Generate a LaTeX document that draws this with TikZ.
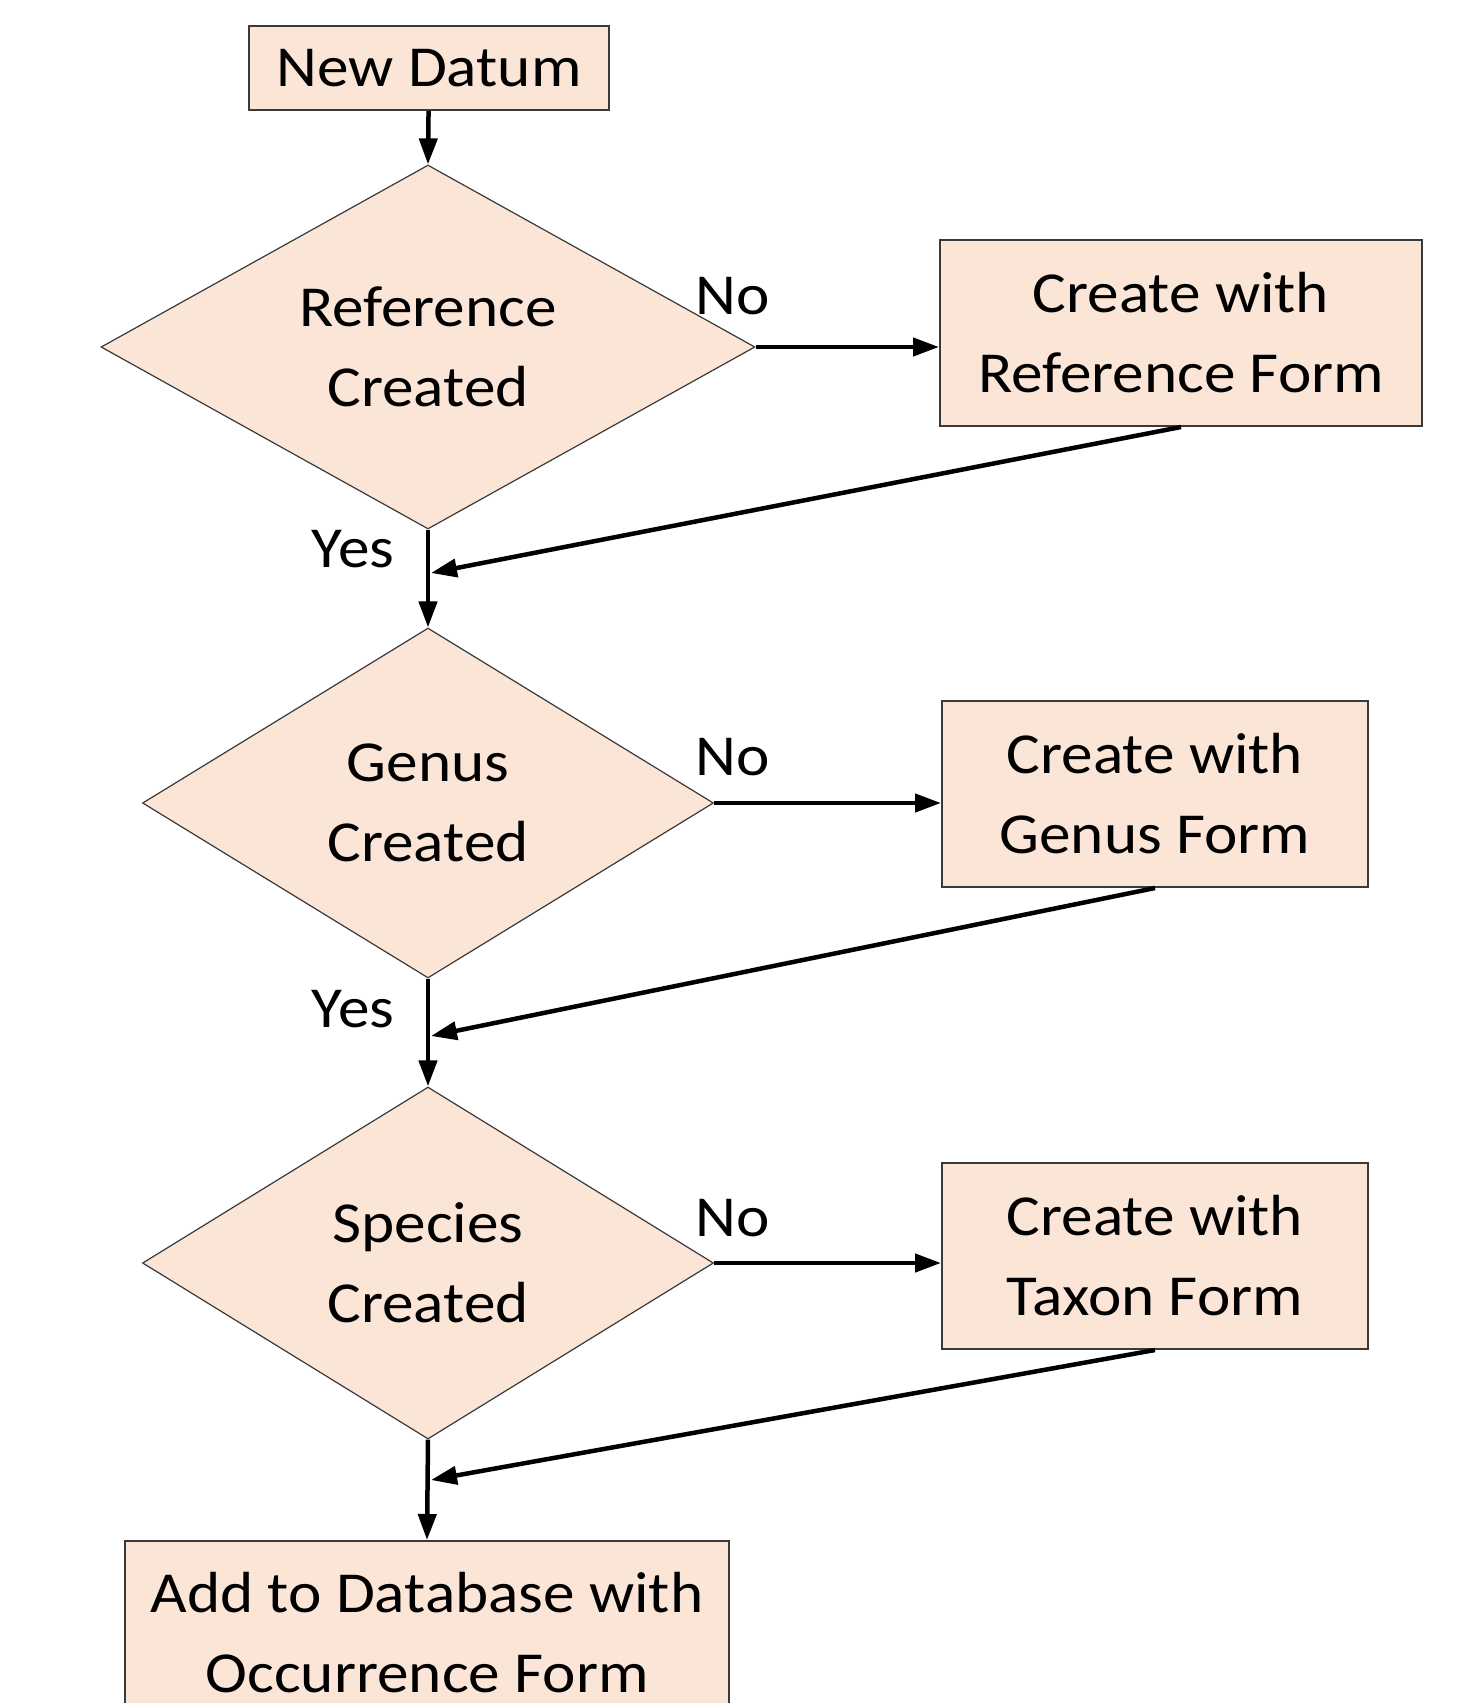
\documentclass[tikz,border=0pt]{standalone}
\usepackage{fontspec}
\setmainfont[FakeStretch=1.09]{Carlito}
\usetikzlibrary{shapes.geometric,arrows.meta,calc}
\definecolor{peach}{HTML}{FBE5D6}
\definecolor{edge}{HTML}{3A3A3A}
\begin{document}
\begin{tikzpicture}[x=1pt,y=-1pt,
  every node/.style={font=\fontsize{58}{80}\selectfont, text=black},
  boxnode/.style={draw=edge, line width=2pt, fill=peach, align=center, inner sep=0pt},
  decision/.style={diamond, aspect=2, draw=edge, line width=1.2pt, fill=peach, align=center, inner sep=0pt},
  flow/.style={line width=4.5pt, -{Triangle[length=26pt,width=18pt]}},
  lbl/.style={inner sep=0pt}]
\clip (0,0) rectangle (1458,1703);
\fill[white] (0,0) rectangle (1458,1703);

\node[boxnode, minimum width=360pt, minimum height=84pt] (nd) at (429,68) {New Datum};

\node[decision, minimum width=654pt, minimum height=364pt] (d1) at (428,347) {Reference\\Created};
\node[boxnode, minimum width=482pt, minimum height=186pt] (b1) at (1181,333) {Create with\\Reference Form};

\node[decision, minimum width=571pt, minimum height=350pt] (d2) at (428,803) {Genus\\Created};
\node[boxnode, minimum width=426pt, minimum height=186pt] (b2) at (1155,794) {Create with\\Genus Form};

\node[decision, minimum width=571pt, minimum height=352pt] (d3) at (428,1263) {Species\\Created};
\node[boxnode, minimum width=426pt, minimum height=186pt] (b3) at (1155,1256) {Create with\\Taxon Form};

\node[boxnode, minimum width=604pt, minimum height=184pt, anchor=north] (fin) at (427,1540) {Add to Database with\\Occurrence Form};

\coordinate (m1) at (431,573);
\coordinate (m2) at (431,1036);
\coordinate (m3) at (431,1480);

\draw[flow] (nd) -- (d1.north);
\draw[flow] (d1.east) -- (d1.east -| b1.west);
\draw[flow] (b1.south) -- (m1);
\draw[flow] (d1.south) -- (d2.north);
\draw[flow] (d2.east) -- (d2.east -| b2.west);
\draw[flow] (b2.south) -- (m2);
\draw[flow] (d2.south) -- (d3.north);
\draw[flow] (d3.east) -- (d3.east -| b3.west);
\draw[flow] (b3.south) -- (m3);
\draw[flow] (d3.south) -- (fin.north);

\node[lbl] (no1) at (733,296) {No};
\node[lbl] (no2) at (733,757) {No};
\node[lbl] (no3) at (733,1218) {No};
\node[lbl] (yes1) at (353,549) {Yes};
\node[lbl] (yes2) at (353,1009) {Yes};
\end{tikzpicture}
\end{document}
